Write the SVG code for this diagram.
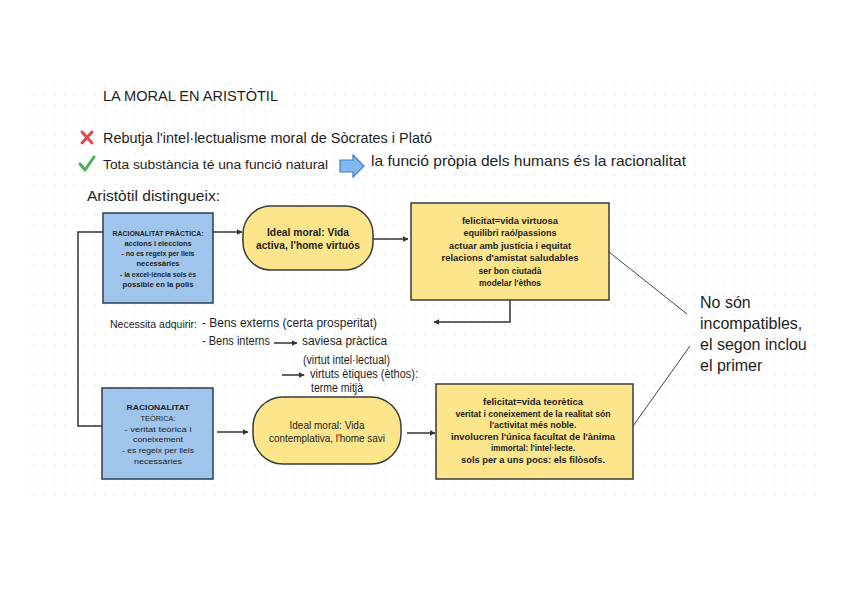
<svg xmlns="http://www.w3.org/2000/svg" width="848" height="599" viewBox="0 0 848 599">
<defs>
<pattern id="dots" x="0" y="0" width="10" height="10" patternUnits="userSpaceOnUse">
<circle cx="5" cy="5" r="0.8" fill="#e2e2e2"/>
</pattern>
<marker id="ah" viewBox="0 0 10 10" refX="9" refY="5" markerWidth="6" markerHeight="6" orient="auto" markerUnits="userSpaceOnUse">
<path d="M0,0 L10,5 L0,10 z" fill="#333"/>
</marker>
<style>
text{font-family:"Liberation Sans","DejaVu Sans",sans-serif;fill:#1e1e1e}
.blue{fill:#9fc5ec;stroke:#2b3d57;stroke-width:1.5}
.yel{fill:#fde58c;stroke:#3a3a3a;stroke-width:1.5}
.bt{font-size:7.5px;font-weight:bold;text-anchor:middle}
.bt2{font-size:7.5px;text-anchor:middle}
.yt{font-size:8.5px;font-weight:bold;text-anchor:middle}
.rt{font-size:10px;font-weight:bold;text-anchor:middle}
.rt2{font-size:10px;text-anchor:middle}
.nt{font-size:12px}
.conn{stroke:#333;stroke-width:1.5;fill:none}
.thin{stroke:#444;stroke-width:1;fill:none}
</style>
</defs>
<rect width="848" height="599" fill="#ffffff"/>
<rect x="25" y="78" width="798" height="420" fill="url(#dots)"/>

<g id="header">
<text x="103" y="101" font-size="14" textLength="175" lengthAdjust="spacingAndGlyphs">LA MORAL EN ARISTÒTIL</text>
<path d="M82,132 L92,143 M92,132 L82,143" stroke="#e0464f" stroke-width="3" stroke-linecap="round"/>
<text x="103" y="143" font-size="14" textLength="329" lengthAdjust="spacingAndGlyphs">Rebutja l'intel·lectualisme moral de Sòcrates i Plató</text>
<path d="M80,164 L85,170 L94,157" stroke="#4cb050" stroke-width="3" fill="none" stroke-linecap="round" stroke-linejoin="round"/>
<text x="103" y="169" font-size="12" textLength="225" lengthAdjust="spacingAndGlyphs">Tota substància té una funció natural</text>
<path d="M340,160 L353,160 L353,155 L364,166 L353,177 L353,172 L340,172 Z" fill="#80b9ef" stroke="#3d7fc4" stroke-width="1.2"/>
<text x="371" y="166" font-size="15" textLength="315" lengthAdjust="spacingAndGlyphs">la funció pròpia dels humans és la racionalitat</text>
<text x="87" y="201" font-size="15" textLength="133" lengthAdjust="spacingAndGlyphs">Aristòtil distingueix:</text>
</g>

<g id="connectors">
<path class="conn" d="M103,232 L78,232 L78,426 L102,426"/>
<line class="conn" x1="213" y1="232" x2="242" y2="232" marker-end="url(#ah)"/>
<line class="conn" x1="373" y1="239" x2="408" y2="239" marker-end="url(#ah)"/>
<path class="conn" d="M510,300 L510,322 L434,322" marker-end="url(#ah)"/>
<line class="conn" x1="217" y1="432" x2="248" y2="432" marker-end="url(#ah)"/>
<line class="conn" x1="407" y1="433" x2="435" y2="433" marker-end="url(#ah)"/>
<line class="thin" x1="609" y1="252" x2="687" y2="314"/>
<line class="thin" x1="633" y1="426" x2="690" y2="346"/>
<line class="conn" x1="274" y1="343" x2="297" y2="343" marker-end="url(#ah)"/>
<line class="conn" x1="282" y1="375" x2="304" y2="375" marker-end="url(#ah)"/>
</g>

<g id="practica">
<rect class="blue" x="103" y="213" width="110" height="90"/>
<text class="bt" x="158" y="236" textLength="91" lengthAdjust="spacingAndGlyphs">RACIONALITAT PRÀCTICA:</text>
<text class="bt" x="158" y="246" textLength="67" lengthAdjust="spacingAndGlyphs">accions i eleccions</text>
<text class="bt" x="158" y="256" textLength="73" lengthAdjust="spacingAndGlyphs">- no es regeix per lleis</text>
<text class="bt" x="158" y="266" textLength="43" lengthAdjust="spacingAndGlyphs">necessàries</text>
<text class="bt" x="158" y="277" textLength="76" lengthAdjust="spacingAndGlyphs">- la excel·lència sols és</text>
<text class="bt" x="158" y="287" textLength="71" lengthAdjust="spacingAndGlyphs">possible en la polis</text>
</g>

<g id="ideal-activa">
<rect class="yel" x="243" y="206" width="130" height="64" rx="28" ry="28"/>
<text class="rt" x="308" y="236" textLength="82" lengthAdjust="spacingAndGlyphs">Ideal moral: Vida</text>
<text class="rt" x="308" y="249" textLength="104" lengthAdjust="spacingAndGlyphs">activa, l'home virtuós</text>
</g>

<g id="felicitat-virtuosa">
<rect class="yel" x="411" y="203" width="198" height="97"/>
<text class="yt" x="510" y="224" textLength="96" lengthAdjust="spacingAndGlyphs">felicitat=vida virtuosa</text>
<text class="yt" x="510" y="236" textLength="93" lengthAdjust="spacingAndGlyphs">equilibri raó/passions</text>
<text class="yt" x="510" y="249" textLength="122" lengthAdjust="spacingAndGlyphs">actuar amb justícia i equitat</text>
<text class="yt" x="510" y="261" textLength="137" lengthAdjust="spacingAndGlyphs">relacions d'amistat saludables</text>
<text class="yt" x="510" y="274" textLength="63" lengthAdjust="spacingAndGlyphs">ser bon ciutadà</text>
<text class="yt" x="510" y="286" textLength="62" lengthAdjust="spacingAndGlyphs">modelar l'èthos</text>
</g>

<g id="necessita">
<text x="110" y="328" font-size="10.5" textLength="87" lengthAdjust="spacingAndGlyphs">Necessita adquirir:</text>
<text class="nt" x="202" y="327" textLength="175" lengthAdjust="spacingAndGlyphs">- Bens externs (certa prosperitat)</text>
<text class="nt" x="202" y="345" textLength="68" lengthAdjust="spacingAndGlyphs">- Bens interns</text>
<text class="nt" x="302" y="345" textLength="85" lengthAdjust="spacingAndGlyphs">saviesa pràctica</text>
<text class="nt" x="303" y="364" textLength="87" lengthAdjust="spacingAndGlyphs">(virtut intel·lectual)</text>
<text class="nt" x="310" y="378" textLength="108" lengthAdjust="spacingAndGlyphs">virtuts ètiques (èthos):</text>
<text class="nt" x="311" y="392" textLength="52" lengthAdjust="spacingAndGlyphs">terme  mitjà</text>
</g>

<g id="teorica">
<rect class="blue" x="102" y="388" width="111" height="91"/>
<text class="bt2" x="158" y="410" font-weight="bold" textLength="63" lengthAdjust="spacingAndGlyphs">RACIONALITAT</text>
<text class="bt2" x="158" y="421" textLength="35" lengthAdjust="spacingAndGlyphs">TEÒRICA:</text>
<text class="bt2" x="158" y="432" textLength="67" lengthAdjust="spacingAndGlyphs">- veritat teòrica i</text>
<text class="bt2" x="158" y="442" textLength="50" lengthAdjust="spacingAndGlyphs">coneixement</text>
<text class="bt2" x="158" y="453" textLength="72" lengthAdjust="spacingAndGlyphs">- es regeix per lleis</text>
<text class="bt2" x="158" y="464" textLength="48" lengthAdjust="spacingAndGlyphs">necessàries</text>
</g>

<g id="ideal-contemplativa">
<rect class="yel" x="253" y="397" width="148" height="67" rx="30" ry="30"/>
<text class="rt2" x="327" y="429" textLength="75" lengthAdjust="spacingAndGlyphs">Ideal moral: Vida</text>
<text class="rt2" x="327" y="442" textLength="116" lengthAdjust="spacingAndGlyphs">contemplativa, l'home savi</text>
</g>

<g id="felicitat-teoretica">
<rect class="yel" x="436" y="384" width="197" height="95"/>
<text class="yt" x="533" y="405" textLength="100" lengthAdjust="spacingAndGlyphs">felicitat=vida teorètica</text>
<text class="yt" x="533" y="417" textLength="155" lengthAdjust="spacingAndGlyphs">veritat i coneixement de la realitat són</text>
<text class="yt" x="533" y="428" textLength="87" lengthAdjust="spacingAndGlyphs">l'activitat més noble.</text>
<text class="yt" x="533" y="440" textLength="164" lengthAdjust="spacingAndGlyphs">involucren l'única facultat de l'ànima</text>
<text class="yt" x="533" y="451" textLength="84" lengthAdjust="spacingAndGlyphs">immortal: l'intel·lecte.</text>
<text class="yt" x="533" y="463" textLength="144" lengthAdjust="spacingAndGlyphs">sols per a uns pocs: els filòsofs.</text>
</g>

<g id="conclusio">
<text x="700" y="308" font-size="16">No són</text>
<text x="700" y="329" font-size="16">incompatibles,</text>
<text x="700" y="350" font-size="16">el segon inclou</text>
<text x="700" y="371" font-size="16">el primer</text>
</g>
</svg>
